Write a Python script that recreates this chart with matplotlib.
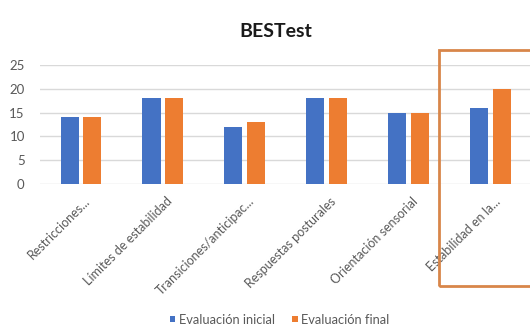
import matplotlib
matplotlib.use("Agg")
import matplotlib.pyplot as plt
from matplotlib.patches import Rectangle
from matplotlib.transforms import ScaledTranslation
import numpy as np

plt.rcParams['font.family'] = ['Lato', 'DejaVu Sans']

categories = ["Restricciones...", "Límites de estabilidad", "Transiciones/anticipac...",
              "Respuestas posturales", "Orientación sensorial", "Estabilidad en la..."]
inicial = [14, 18, 12, 18, 15, 16]
final = [14, 18, 13, 18, 15, 20]
series_names = ["Evaluación inicial", "Evaluación final"]
yticks = [0, 5, 10, 15, 20, 25]

blue = "#4472C4"
orange = "#ED7D31"
grid = "#D9D9D9"
txt = "#595959"

fig = plt.figure(figsize=(5.30, 3.29), dpi=100)
ax = fig.add_axes([0.0755, 0.4407, 0.928, 0.3617])

x = np.arange(len(categories))
w = 0.22
off = 0.14
ax.bar(x - off, inicial, w, color=blue, label=series_names[0], zorder=3)
ax.bar(x + off, final, w, color=orange, label=series_names[1], zorder=3)

ax.set_xlim(-0.5, len(categories) - 0.5)
ax.set_ylim(0, 25)
ax.set_yticks(yticks)
ax.yaxis.grid(True, color=grid, linewidth=1, zorder=0)
for s in ax.spines.values():
    s.set_visible(False)
ax.tick_params(axis='both', length=0, colors=txt, labelsize=9.5)
ax.tick_params(axis='y', pad=11)
ax.set_xticks(x)
ax.set_xticklabels(categories, rotation=45, ha='right', rotation_mode='anchor',
                   fontsize=9.0, color=txt)
ax.tick_params(axis='x', pad=8)
shift = ScaledTranslation(3 / 100, 0, fig.dpi_scale_trans)
for lab in ax.get_xticklabels():
    lab.set_transform(lab.get_transform() + shift)

fig.text(0.52, 0.905, "BESTest", ha='center', va='center', fontsize=14,
         fontweight='bold', color='#1a1a1a')

leg = fig.legend(loc='lower center', bbox_to_anchor=(0.528, -0.025), ncol=2,
                 frameon=False, fontsize=9.3, handlelength=0.42, handleheight=0.42,
                 handletextpad=0.3, columnspacing=1.3)
for t in leg.get_texts():
    t.set_color(txt)

fig.patches.append(Rectangle((0.829, 0.130), 0.2, 0.718, transform=fig.transFigure,
                             fill=False, edgecolor="#D8864A", linewidth=2, zorder=10))

fig.savefig("out.png", dpi=100)
